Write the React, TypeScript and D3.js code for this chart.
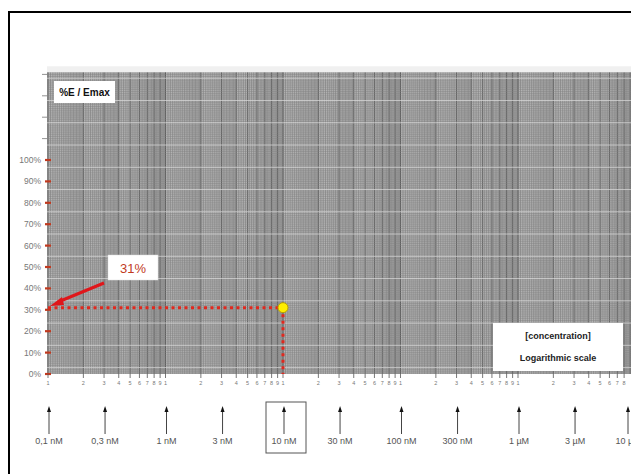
import React from "react";
import * as d3 from "d3";

const concValues = [0.1, 0.3, 1, 3, 10, 30, 100, 300, 1000, 3000, 10000];
const concLabels = ["0,1 nM", "0,3 nM", "1 nM", "3 nM", "10 nM", "30 nM", "100 nM", "300 nM", "1 \u00b5M", "3 \u00b5M", "10 \u00b5M"];
const yTickValues = [0, 10, 20, 30, 40, 50, 60, 70, 80, 90, 100];
const yExtraTicks = [110, 120, 130, 140];
const decadeStarts = [0.1, 1, 10, 100, 1000, 10000];
const decadeDigits = [1, 2, 3, 4, 5, 6, 7, 8, 9];
const pointConc = 10;
const pointResponse = 31;
const highlightedConc = 10;

const W = 631;
const H = 474;

export default function App() {
  // 117.5 px per decade, 0.1 nM at x = 48
  const xs = d3.scaleLog().domain([0.1, 1]).range([48, 165.5]);
  const X = (v: number) => xs(v);
  const y = d3.scaleLinear().domain([0, 100]).range([374, 160]);
  const gridTop = y(141);
  const gridBottom = y(0);
  const gridLeft = 47;
  const gridRight = W;

  const vLines: number[] = [];
  const vMajor: number[] = [];
  decadeStarts.forEach((d) => {
    for (let m = 1; m < 2; m += 0.05) vLines.push(d * m);
    for (let m = 2; m < 4; m += 0.1) vLines.push(d * m);
    for (let m = 4; m < 10; m += 0.2) vLines.push(d * m);
    decadeDigits.forEach((k) => vMajor.push(d * k));
  });
  const hLines = d3.range(0, 142, 1);
  const hLight = d3.range(3, 142, 10.4);

  const dotColor = "#e0281e";
  const px = X(pointConc);
  const py = y(pointResponse);

  return (
    <svg width={W} height={H} style={{ position: "fixed", left: 0, top: 0, background: "#fff" }} fontFamily="'Liberation Sans', Arial, sans-serif">
      <defs>
        <clipPath id="gridclip">
          <rect x={gridLeft} y={gridTop} width={gridRight - gridLeft} height={gridBottom - gridTop} />
        </clipPath>
      </defs>
      <rect x={9} y={12} width={W + 20} height={H + 20} fill="none" stroke="#000" strokeWidth={2} />

      <rect x={gridLeft} y={gridTop - 6} width={gridRight - gridLeft} height={6} fill="#f0f0f0" />

      <g clipPath="url(#gridclip)">
        <rect x={gridLeft} y={gridTop} width={gridRight - gridLeft} height={gridBottom - gridTop} fill="#b3b3b3" />
        {vLines.map((v, i) => (
          <line key={"v" + i} x1={X(v)} x2={X(v)} y1={gridTop} y2={gridBottom} stroke="#707070" strokeWidth={0.5} />
        ))}
        {vMajor.map((v, i) => (
          <line key={"vm" + i} x1={X(v)} x2={X(v)} y1={gridTop} y2={gridBottom} stroke="#505050" strokeWidth={0.7} />
        ))}
        {hLines.map((v, i) => (
          <line key={"h" + i} x1={gridLeft} x2={gridRight} y1={y(v)} y2={y(v)} stroke="#828282" strokeWidth={0.45} />
        ))}
        {hLight.map((v, i) => (
          <line key={"hl" + i} x1={gridLeft} x2={gridRight} y1={y(v)} y2={y(v)} stroke="#dcdcdc" strokeWidth={0.7} />
        ))}
      </g>

      {yTickValues.map((v) => (
        <g key={"yt" + v}>
          <line x1={45} x2={51} y1={y(v)} y2={y(v)} stroke="#c0391f" strokeWidth={2.2} />
          <text x={41} y={y(v) + 3} fontSize={8.5} fill="#777" textAnchor="end">{v}%</text>
        </g>
      ))}
      {yExtraTicks.map((v) => (
        <line key={"ye" + v} x1={42} x2={47} y1={y(v)} y2={y(v)} stroke="#777" strokeWidth={0.8} />
      ))}

      {decadeStarts.map((d) =>
        decadeDigits
          .filter((k) => X(d * k) < W - 2)
          .map((k) => (
            <g key={"xd" + d + "_" + k}>
              <line x1={X(d * k)} x2={X(d * k)} y1={gridBottom} y2={gridBottom + 4} stroke="#555" strokeWidth={0.8} />
              <text x={X(d * k)} y={gridBottom + 11} fontSize={5.5} fill="#777" textAnchor="middle">{k}</text>
            </g>
          ))
      )}

      <rect x={54} y={81} width={61} height={22} fill="#fff" />
      <text x={84.5} y={96} fontSize={10} fontWeight="bold" fill="#111" textAnchor="middle">%E / Emax</text>

      <rect x={493} y={323} width={130} height={48} fill="#fff" />
      <text x={558} y={339} fontSize={9} fontWeight="bold" fill="#222" textAnchor="middle">[concentration]</text>
      <text x={558} y={361} fontSize={9} fontWeight="bold" fill="#222" textAnchor="middle">Logarithmic scale</text>

      <line x1={48} x2={px} y1={py} y2={py} stroke={dotColor} strokeWidth={3} strokeDasharray="3 3.5" />
      <line x1={px} x2={px} y1={py} y2={gridBottom} stroke={dotColor} strokeWidth={3} strokeDasharray="3 3.5" />
      <circle cx={px} cy={py} r={5} fill="#ffee00" stroke="#b8a000" strokeWidth={1} />

      <rect x={108} y={255} width={50} height={25} fill="#fff" stroke="#ddd" strokeWidth={0.5} />
      <text x={133} y={273} fontSize={13} fill="#c23a1e" textAnchor="middle">{pointResponse}%</text>
      <line x1={104} x2={58} y1={283} y2={302} stroke="#e0161a" strokeWidth={3} />
      <path d="M50,306 L62,297 L64,305 Z" fill="#e0161a" />

      {concValues.map((c, i) => {
        const ax = Math.min(X(c) + 1, 628);
        return (
          <g key={"ca" + i}>
            <line x1={ax} x2={ax} y1={411} y2={434} stroke="#444" strokeWidth={1} />
            <path d={`M${ax - 2},${412} L${ax},${406} L${ax + 2},${412} Z`} fill="#111" />
            <text x={ax} y={444} fontSize={9} fill="#555" textAnchor="middle">{concLabels[i]}</text>
          </g>
        );
      })}
      <rect x={X(highlightedConc) - 17} y={402} width={40} height={51} fill="none" stroke="#555" strokeWidth={1} />
    </svg>
  );
}
